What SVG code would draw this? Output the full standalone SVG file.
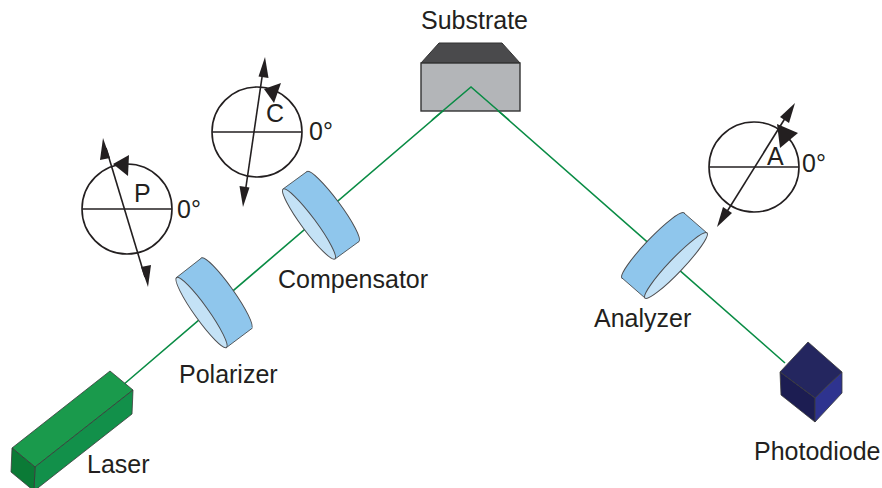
<svg xmlns="http://www.w3.org/2000/svg" width="882" height="488" viewBox="0 0 882 488">
  <style>
    .lbl { font-family: "Liberation Sans", Arial, sans-serif; font-size: 25px; fill: #231f20; }
    .beam { stroke: #0a8c45; stroke-width: 1.6; fill: none; }
    .dial { fill: none; stroke: #231f20; stroke-width: 1.6; }
    .axis { stroke: #231f20; stroke-width: 1.6; }
    .head { fill: #231f20; }
    .rim { fill: #8fc6ec; stroke: #4d4d4f; stroke-width: 1; }
    .face { fill: #c4e2f6; stroke: #4d4d4f; stroke-width: 1; }
    .edge { stroke: #3a3a3a; stroke-width: 0.8; stroke-linejoin: round; }
  </style>

  <!-- light path -->
  <g id="connectors">
    <polyline class="beam" points="123,385 471,87 785,363"/>
  </g>

  <!-- laser head -->
  <g id="laser">
    <polygon class="edge" fill="#1a9a4c" points="12,448 110,371 133,390 35,467"/>
    <polygon class="edge" fill="#12904a" points="35,467 133,390 132,414 34,491"/>
    <polygon class="edge" fill="#0b7a36" points="12,448 35,467 34,491 11,472"/>
    <text class="lbl" x="87" y="473">Laser</text>
  </g>

  <!-- polarizer disc -->
  <g id="polarizer">
    <ellipse class="rim" cx="226.5" cy="293" rx="43" ry="7" transform="rotate(54.5 226.5 293)"/>
    <polygon fill="#8fc6ec" points="176.5,277.5 201.5,258 252.5,328 226.5,347.5"/>
    <line class="edge" x1="176.5" y1="277.5" x2="201.5" y2="258"/>
    <line class="edge" x1="226.5" y1="347.5" x2="252.5" y2="328"/>
    <ellipse class="face" cx="201.5" cy="312.5" rx="43" ry="7" transform="rotate(54.5 201.5 312.5)"/>
    <text class="lbl" x="179" y="383">Polarizer</text>
  </g>

  <!-- compensator disc -->
  <g id="compensator">
    <ellipse class="rim" cx="333" cy="206.5" rx="43.5" ry="7" transform="rotate(53.4 333 206.5)"/>
    <polygon fill="#8fc6ec" points="283,189 307,171.5 359,241.5 335,259"/>
    <line class="edge" x1="283" y1="189" x2="307" y2="171.5"/>
    <line class="edge" x1="335" y1="259" x2="359" y2="241.5"/>
    <ellipse class="face" cx="309" cy="224" rx="43.5" ry="7" transform="rotate(53.4 309 224)"/>
    <text class="lbl" x="278" y="288">Compensator</text>
  </g>

  <!-- substrate block -->
  <g id="substrate">
    <polygon points="439,43 502,43 520,63 421,63" fill="#4a4a4c" stroke="#333" stroke-width="1"/>
    <rect x="421" y="63" width="99" height="48" fill="#b3b5b8" stroke="#333" stroke-width="1.4"/>
    <polyline class="beam" points="432,120 471,87 509,120"/>
    <text class="lbl" x="421" y="29">Substrate</text>
  </g>

  <!-- analyzer disc -->
  <g id="analyzer">
    <ellipse class="rim" cx="653" cy="245.5" rx="45" ry="7" transform="rotate(-46.4 653 245.5)"/>
    <polygon fill="#8fc6ec" points="707,233 684,213 622,278 645,298"/>
    <line class="edge" x1="707" y1="233" x2="684" y2="213"/>
    <line class="edge" x1="645" y1="298" x2="622" y2="278"/>
    <ellipse class="face" cx="676" cy="265.5" rx="45" ry="7" transform="rotate(-46.4 676 265.5)"/>
    <text class="lbl" x="594" y="327">Analyzer</text>
  </g>

  <!-- photodiode cube -->
  <g id="photodiode">
    <polygon class="edge" fill="#24265f" points="808,342 780,372 815,398 842,372"/>
    <polygon class="edge" fill="#1c1d52" points="780,372 815,398 815,422 781,395"/>
    <polygon class="edge" fill="#2e338f" points="815,398 842,372 842,393 815,422"/>
    <text class="lbl" x="754" y="460">Photodiode</text>
  </g>

  <!-- polarizer angle dial -->
  <g id="dial-p">
    <circle class="dial" cx="127" cy="209" r="45"/>
    <line class="axis" x1="82" y1="209" x2="172" y2="209"/>
    <line class="axis" x1="106" y1="148" x2="145" y2="277"/>
    <polygon class="head" points="103,138 110,158 100,160"/>
    <polygon class="head" points="148,287 141,267 151,265"/>
    <polygon class="head" points="113,164 129,155 128,176"/>
    <text class="lbl" x="134" y="202">P</text>
    <text class="lbl" x="177" y="218">0°</text>
  </g>

  <!-- compensator angle dial -->
  <g id="dial-c">
    <circle class="dial" cx="257" cy="132" r="45"/>
    <line class="axis" x1="212" y1="132" x2="302" y2="132"/>
    <line class="axis" x1="263.5" y1="67" x2="244.5" y2="197"/>
    <polygon class="head" points="265,57 268.5,78 258.5,76.5"/>
    <polygon class="head" points="243,207 239.5,186 249.5,187.5"/>
    <polygon class="head" points="264,89 281,83 274,103"/>
    <text class="lbl" x="266" y="122">C</text>
    <text class="lbl" x="309" y="140">0°</text>
  </g>

  <!-- analyzer angle dial -->
  <g id="dial-a">
    <circle class="dial" cx="754" cy="167" r="45"/>
    <line class="axis" x1="709" y1="167" x2="799" y2="167"/>
    <line class="axis" x1="789" y1="112" x2="723" y2="218"/>
    <polygon class="head" points="795,103 789,123 780,117"/>
    <polygon class="head" points="717,227 723,207 732,213"/>
    <polygon class="head" points="777,124 798,133 780,148"/>
    <text class="lbl" x="767" y="165">A</text>
    <text class="lbl" x="802" y="172">0°</text>
  </g>
</svg>
